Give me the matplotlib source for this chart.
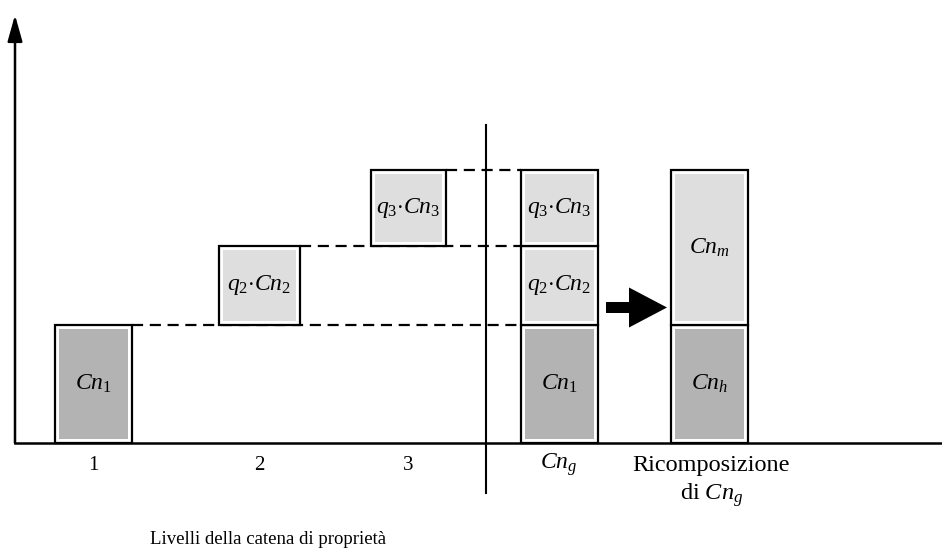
import matplotlib.pyplot as plt
from matplotlib.patches import FancyArrow

plt.rcParams['font.family'] = ['Liberation Serif', 'DejaVu Serif']
plt.rcParams['mathtext.fontset'] = 'custom'
plt.rcParams['mathtext.rm'] = 'Liberation Serif'
plt.rcParams['mathtext.it'] = 'Liberation Serif:italic'

# data
level_labels = ['1', '2', '3']
level_values = [1.5, 1.0, 0.95]          # Cn1, q2*Cn2, q3*Cn3
level_texts = [r'$Cn_1$', r'$q_2{\cdot}Cn_2$', r'$q_3{\cdot}Cn_3$']
recomp_values = [1.5, 1.95]              # Cnh, Cnm
recomp_texts = [r'$Cn_h$', r'$Cn_m$']
dark_grey = '#b3b3b3'
light_grey = '#dedede'
level_colors = [dark_grey, light_grey, light_grey]
recomp_colors = [dark_grey, light_grey]

# layout (x in pixels, y in value units)
level_x = [93, 259.5, 408.5]
level_w = [77, 81, 75]
cng_x, recomp_x = 559, 709.5
box_w = 77
ypx = 79.0  # pixels per unit

fig = plt.figure(figsize=(9.42, 5.56), dpi=100)
ax = fig.add_axes([0, 0, 1, 1])
ax.set_xlim(0, 942)
ax.set_ylim(-113 / ypx, 443 / ypx)
ax.axis('off')

gap_x = 4
gap_y = 4 / ypx


def box(x, w, bottom, h, color, text):
    ax.bar(x, h, w, bottom=bottom, color='white', edgecolor='black',
           linewidth=1.6, zorder=2)
    ax.bar(x, h - 2 * gap_y, w - 2 * gap_x, bottom=bottom + gap_y,
           color=color, edgecolor='none', zorder=3)
    ax.text(x, bottom + h / 2, text, ha='center', va='center',
            fontsize=17, zorder=4)


# level boxes, each sitting on the top of the previous one
bottom = 0
tops = []
for i, v in enumerate(level_values):
    box(level_x[i], level_w[i], bottom, v, level_colors[i], level_texts[i])
    bottom += v
    tops.append(bottom)
    ax.text(level_x[i], -22 / ypx, level_labels[i], ha='center',
            va='center', fontsize=15)

# stacked Cng
stack_bottom = 0
for i, v in enumerate(level_values):
    box(cng_x, box_w, stack_bottom, v, level_colors[i], level_texts[i])
    stack_bottom += v

# recomposition
stack_bottom = 0
for v, c, t in zip(recomp_values, recomp_colors, recomp_texts):
    box(recomp_x, box_w, stack_bottom, v, c, t)
    stack_bottom += v

# dashed guides
for i, t in enumerate(tops):
    x0 = level_x[i] + level_w[i] / 2
    ax.plot([x0, cng_x - box_w / 2], [t, t], color='black', lw=1.6,
            ls=(0, (5, 3)), zorder=1)

# axes
ax.plot([15, 942], [0, 0], color='black', lw=1.8, zorder=5)
ax.annotate('', xy=(15, 428 / ypx), xytext=(15, 0),
            arrowprops=dict(arrowstyle='-|>,head_length=1.6,head_width=0.45',
                            color='black', lw=1.8, shrinkA=0, shrinkB=0))
ax.plot([486, 486], [-50 / ypx, 318 / ypx], color='black', lw=1.5)

# block arrow
ax.add_patch(FancyArrow(606, 135.5 / ypx, 61, 0, width=11 / ypx,
                        head_width=40 / ypx, head_length=38,
                        length_includes_head=True, color='black', lw=0))

# labels
ax.text(cng_x, -22 / ypx, r'$Cn_g$', ha='center', va='center', fontsize=17)
ax.text(recomp_x + 2, -39 / ypx, 'Ricomposizione\n' + r'di $Cn_g$',
        ha='center', va='center', fontsize=17.5, linespacing=1.3)
ax.text(268, -97 / ypx, 'Livelli della catena di proprietà', ha='center',
        va='center', fontsize=13.5)

fig.savefig('out.png', dpi=100)
